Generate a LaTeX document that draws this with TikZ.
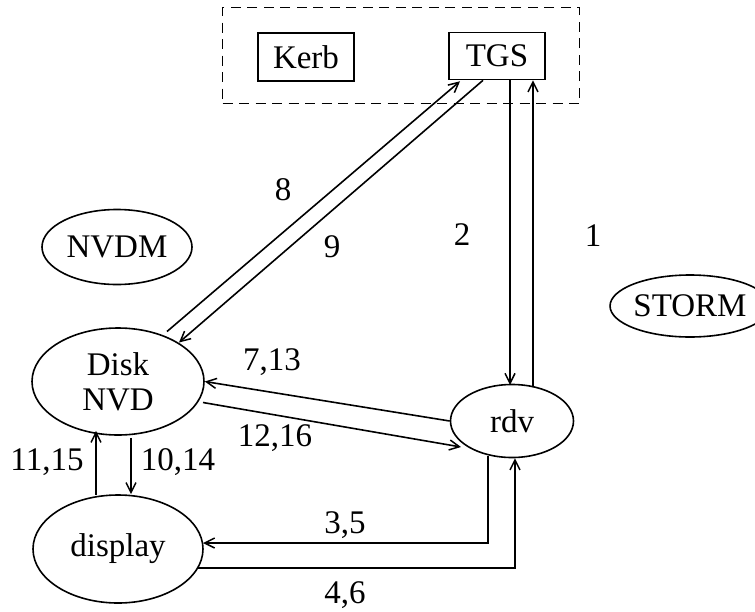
\documentclass[tikz,border=0pt]{standalone}
\usepackage{fontspec}
\setmainfont{Liberation Serif}
\usetikzlibrary{shapes.geometric,arrows.meta,calc}
\tikzset{
  txt/.style={font=\fontsize{33}{35}\selectfont},
  lbl/.style={txt, inner sep=0pt},
  boxnode/.style={txt, draw, line width=1.6pt, rectangle, inner sep=0pt},
  ell/.style={txt, draw, line width=1.6pt, ellipse, inner sep=0pt, align=center},
  arr/.style={line width=1.6pt, -{Straight Barb[length=10pt,width=10pt,line width=1.5pt]}},
  grpbox/.style={draw, dash pattern=on 10pt off 6.5pt, line width=1.5pt, rectangle, inner sep=0pt}
}
\begin{document}
\begin{tikzpicture}[x=1pt,y=-1pt]
\clip (0,0) rectangle (755,611);
% group box
\node[grpbox, minimum width=357pt, minimum height=96pt] (grp) at (401,55.5) {};
\node[boxnode, minimum width=96pt, minimum height=48pt] (kerb) at (306,57) {Kerb};
\node[boxnode, minimum width=96pt, minimum height=47pt] (tgs) at (497,56) {TGS};
% ellipses
\node[ell, minimum width=150pt, minimum height=75pt] (nvdm) at (117,247) {NVDM};
\node[ell, minimum width=148pt, minimum height=62pt] (storm) at (690,306) {STORM};
\node[ell, minimum width=172pt, minimum height=107pt] (disk) at (118,381.5) {Disk\\NVD};
\node[ell, minimum width=170pt, minimum height=108pt] (display) at (118,549) {display};
\node[ell, minimum width=123pt, minimum height=73pt] (rdv) at (512,421) {rdv};
% connectors
\draw[arr] ($(disk.center)+(49,-50)$) -- ($(tgs.south)+(-37,1)$);
\draw[arr] ($(tgs.south)+(-14,0)$) -- ($(disk.center)+(61,-39)$);
\draw[arr] ($(tgs.south)+(13,0)$) -- ($(rdv.center)+(-2,-36)$);
\draw[arr] ($(rdv.center)+(21,-35)$) -- ($(tgs.south)+(36,0)$);
\draw[arr] (rdv.west) -- (disk.east);
\draw[arr] ($(disk.center)+(85,21)$) -- ($(rdv.center)+(-51,26)$);
\draw[arr] ($(disk.south)+(13,2)$) -- ($(display.north)+(13,0)$);
\draw[arr] ($(display.north)+(-22,1)$) -- ($(disk.south)+(-22,-5)$);
\draw[arr] ($(rdv.center)+(-24,35)$) |- ($(display.center)+(85,-6)$);
\draw[arr] ($(display.center)+(80,19)$) -| ($(rdv.south)+(3,0)$);
% labels
\node[lbl] (l8) at (283,190) {8};
\node[lbl] (l9) at (332,247) {9};
\node[lbl] (l2) at (462,235) {2};
\node[lbl] (l1) at (593,236) {1};
\node[lbl] (l713) at (272,362) {7,13};
\node[lbl] (l1216) at (275,438) {12,16};
\node[lbl] (l1115) at (47,462) {11,15};
\node[lbl] (l1014) at (178,462) {10,14};
\node[lbl] (l35) at (345,525) {3,5};
\node[lbl] (l46) at (345,595) {4,6};
\end{tikzpicture}
\end{document}
